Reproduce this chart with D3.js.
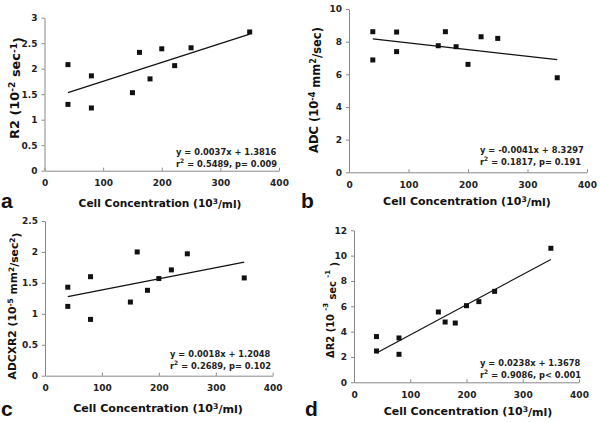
<!DOCTYPE html>
<html><head><meta charset="utf-8">
<script src="https://cdn.jsdelivr.net/npm/d3@7"></script>
<style>
html,body{margin:0;padding:0;background:#fff;}
svg{display:block;font-family:"DejaVu Sans",Verdana,sans-serif;font-weight:bold;}
</style></head>
<body>
<script>
// ---- data ----
const cellConc = [40, 40, 80, 80, 150, 162, 180, 200, 222, 250, 350];
const r2Values = [2.08, 1.30, 1.86, 1.23, 1.53, 2.32, 1.80, 2.39, 2.06, 2.41, 2.72];
const adcValues = [8.61, 6.88, 8.59, 7.39, 7.75, 8.61, 7.69, 6.61, 8.30, 8.20, 5.79];
const adcxr2Values = [1.43, 1.12, 1.60, 0.91, 1.19, 2.00, 1.38, 1.57, 1.71, 1.97, 1.58];
const deltaR2Values = [3.61, 2.47, 3.50, 2.21, 5.55, 4.76, 4.68, 6.05, 6.37, 7.18, 10.58];
const xTicks = [0, 100, 200, 300, 400];
const yTicksA = [0, 0.5, 1, 1.5, 2, 2.5, 3];
const yTicksB = [0, 2, 4, 6, 8, 10];
const yTicksC = [0, 0.5, 1, 1.5, 2, 2.5];
const yTicksD = [0, 2, 4, 6, 8, 10, 12];
const fitA = {slope: 0.0037, intercept: 1.3816};
const fitB = {slope: -0.0041, intercept: 8.3297};
const fitC = {slope: 0.0018, intercept: 1.2048};
const fitD = {slope: 0.0238, intercept: 1.3678};
const eqA = ["y = 0.0037x + 1.3816", "= 0.5489, p= 0.009"];
const eqB = ["y = -0.0041x + 8.3297", "= 0.1817, p= 0.191"];
const eqC = ["y = 0.0018x + 1.2048", "= 0.2689, p= 0.102"];
const eqD = ["y = 0.0238x + 1.3678", "= 0.9086, p< 0.001"];
const panelLetters = ["a", "b", "c", "d"];

const svg = d3.select("body").append("svg").attr("width", 600).attr("height", 422);

function fitWidth(sel, base, target) {
  sel.attr("font-size", base);
  const w = sel.node().getBBox().width;
  if (w > 0) sel.attr("font-size", base * target / w);
}

function panel(cfg) {
  const x = d3.scaleLinear().domain([0, 400]).range([cfg.left, cfg.right]);
  const y = d3.scaleLinear().domain([0, d3.max(cfg.yTicks)]).range([cfg.bottom, cfg.top]);
  const g = svg.append("g");

  const xa = g.append("g").attr("transform", `translate(0,${cfg.bottom})`)
    .call(d3.axisBottom(x).tickValues(xTicks).tickSizeInner(-3).tickSizeOuter(0).tickPadding(9));
  const ya = g.append("g").attr("transform", `translate(${cfg.left},0)`)
    .call(d3.axisLeft(y).tickValues(cfg.yTicks).tickFormat(d3.format("~g")).tickSizeInner(3).tickSizeOuter(0).tickPadding(4));
  [xa, ya].forEach(a => {
    a.select(".domain").attr("stroke", "#888").attr("stroke-width", 1);
    a.selectAll(".tick line").attr("stroke", "#888");
    a.selectAll("text").attr("font-size", 9).attr("font-family", "DejaVu Sans").attr("font-weight", "bold").attr("fill", "#222");
  });

  // regression line
  const xs = d3.extent(cfg.xs);
  g.append("line")
    .attr("x1", x(xs[0])).attr("y1", y(cfg.fit.slope * xs[0] + cfg.fit.intercept))
    .attr("x2", x(xs[1])).attr("y2", y(cfg.fit.slope * xs[1] + cfg.fit.intercept))
    .attr("stroke", "#111").attr("stroke-width", 1.2);

  // points
  const s = 5;
  g.selectAll("rect.pt").data(cfg.ys).join("rect").attr("class", "pt")
    .attr("x", (d, i) => x(cfg.xs[i]) - s / 2).attr("y", d => y(d) - s / 2)
    .attr("width", s).attr("height", s).attr("fill", "#111");

  // equation
  const eq = g.append("text").attr("font-size", 8.3).attr("fill", "#222");
  eq.append("tspan").attr("x", cfg.eqX).attr("y", cfg.eqY).text(cfg.eq[0]);
  eq.append("tspan").attr("x", cfg.eqX).attr("y", cfg.eqY + 11.5).text("r");
  eq.append("tspan").attr("dy", -3.5).attr("font-size", 6).text("2");
  eq.append("tspan").attr("dy", 3.5).text(" " + cfg.eq[1]);

  // x title
  const xt = g.append("text").attr("x", cfg.xTitleX).attr("y", cfg.xTitleY)
    .attr("text-anchor", "middle").attr("fill", "#111");
  xt.append("tspan").text("Cell Concentration (10");
  xt.append("tspan").attr("dy", "-0.4em").attr("font-size", "70%").text("3");
  xt.append("tspan").attr("dy", "0.4em").text("/ml)");
  fitWidth(xt, 10, cfg.xTitleW);

  // y title
  const yt = g.append("text").attr("transform", `translate(${cfg.yTitleX},${cfg.yTitleY}) rotate(-90)`)
    .attr("text-anchor", "middle").attr("dy", "0.36em").attr("fill", "#111");
  cfg.yTitle.forEach(p => {
    const t = yt.append("tspan").text(p.t);
    if (p.sup) t.attr("dy", p.dy || "-0.4em").attr("font-size", "70%");
    if (p.down) t.attr("dy", p.down);
  });
  fitWidth(yt, 10, cfg.yTitleW);

  // letter
  g.append("text").attr("x", cfg.letterX).attr("y", cfg.letterY)
    .attr("font-family", "Liberation Sans, Arial, sans-serif").attr("font-size", 21)
    .attr("font-weight", "bold").attr("fill", "#111").text(cfg.letter);
}

panel({left: 44.5, right: 279, top: 17.7, bottom: 170.7, yTicks: yTicksA, xs: cellConc, ys: r2Values,
  fit: fitA, eq: eqA, eqX: 176, eqY: 155,
  xTitleX: 160, xTitleY: 207, xTitleW: 163, yTitleX: 14, yTitleY: 88, yTitleW: 102,
  letter: panelLetters[0], letterX: 1, letterY: 208,
  yTitle: [{t: "R2 (10"}, {t: "-2", sup: true}, {t: " sec", down: "0.4em"}, {t: "-1", sup: true}, {t: ")", down: "0.4em"}]});

panel({left: 349, right: 587, top: 9, bottom: 172.3, yTicks: yTicksB, xs: cellConc, ys: adcValues,
  fit: fitB, eq: eqB, eqX: 480, eqY: 153,
  xTitleX: 467, xTitleY: 205, xTitleW: 168, yTitleX: 314, yTitleY: 90, yTitleW: 126,
  letter: panelLetters[1], letterX: 301, letterY: 208,
  yTitle: [{t: "ADC (10"}, {t: "-4", sup: true}, {t: " mm", down: "0.4em"}, {t: "2", sup: true}, {t: "/sec)", down: "0.4em"}]});

panel({left: 45, right: 272.7, top: 221, bottom: 375.7, yTicks: yTicksC, xs: cellConc, ys: adcxr2Values,
  fit: fitC, eq: eqC, eqX: 170, eqY: 357,
  xTitleX: 158, xTitleY: 412, xTitleW: 170, yTitleX: 12, yTitleY: 306, yTitleW: 147,
  letter: panelLetters[2], letterX: 1, letterY: 416,
  yTitle: [{t: "ADCXR2 (10"}, {t: "-5", sup: true}, {t: " mm", down: "0.4em"}, {t: "2", sup: true}, {t: "/sec", down: "0.4em"}, {t: "2", sup: true}, {t: ")", down: "0.4em"}]});

panel({left: 354, right: 579, top: 230.3, bottom: 382.3, yTicks: yTicksD, xs: cellConc, ys: deltaR2Values,
  fit: fitD, eq: eqD, eqX: 480, eqY: 366,
  xTitleX: 468, xTitleY: 415, xTitleW: 169, yTitleX: 330, yTitleY: 310, yTitleW: 96,
  letter: panelLetters[3], letterX: 305, letterY: 416,
  yTitle: [{t: "ΔR2 (10 "}, {t: "-3", sup: true, dy: "-0.8em"}, {t: " sec ", down: "0.8em"}, {t: "-1", sup: true, dy: "-0.8em"}, {t: " )", down: "0.8em"}]});
</script>
</body></html>
